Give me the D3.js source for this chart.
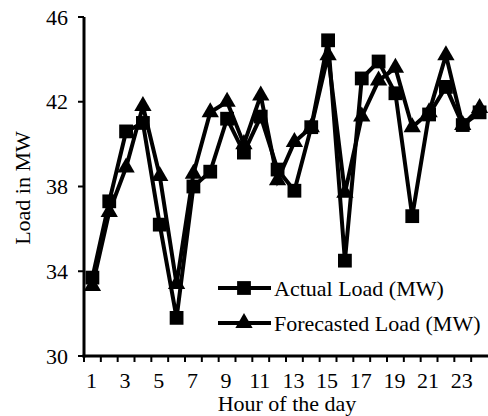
<!DOCTYPE html>
<html>
<head>
<meta charset="utf-8">
<script src="https://cdn.jsdelivr.net/npm/d3@7"></script>
<style>
  body { margin: 0; background: #fff; }
  svg { display: block; font-family: "Liberation Serif", "Times New Roman", serif; }
</style>
</head>
<body>
<svg id="chart" width="488" height="416"></svg>
<script>
// hours of the day
var hours = d3.range(1, 25);
// actual load (MW)
var actualLoad = [33.7, 37.3, 40.6, 41.0, 36.2, 31.8, 38.0, 38.7, 41.2, 39.6, 41.3, 38.8,
                  37.8, 40.8, 44.9, 34.5, 43.1, 43.9, 42.4, 36.6, 41.4, 42.7, 40.9, 41.5];
// forecasted load (MW)
var forecastLoad = [33.3, 36.8, 38.9, 41.8, 38.5, 33.4, 38.6, 41.5, 42.0, 40.0, 42.3, 38.3,
                    40.1, 40.8, 44.2, 37.7, 41.3, 43.0, 43.6, 40.8, 41.5, 44.2, 40.9, 41.7];
var yTicks = [30, 34, 38, 42, 46];
var xTickLabels = [1, 3, 5, 7, 9, 11, 13, 15, 17, 19, 21, 23];

var svg = d3.select('#chart');
var margin = {left: 84, top: 17, right: 0, bottom: 60};
var plotW = 488 - margin.left;
var fontSize = 22;

var x = d3.scaleBand().domain(hours).range([margin.left, margin.left + plotW]);
var y = d3.scaleLinear().domain([30, 46]).range([356, margin.top]);

// series lines
var line = d3.line()
    .x(function(d, i){ return x(hours[i]) + x.bandwidth() / 2; })
    .y(function(d){ return y(d); });

var series = [
  {name: 'Actual Load (MW)', values: actualLoad, symbol: d3.symbolSquare, size: 190},
  {name: 'Forecasted Load (MW)', values: forecastLoad, symbol: d3.symbolTriangle, size: 130}
];

series.forEach(function(s){
  svg.append('path')
    .datum(s.values)
    .attr('d', line)
    .attr('fill', 'none')
    .attr('stroke', '#000')
    .attr('stroke-width', 4)
    .attr('stroke-linejoin', 'miter');
});

series.forEach(function(s){
  svg.append('g').selectAll('path')
    .data(s.values)
    .enter()
    .append('path')
      .attr('d', d3.symbol().type(s.symbol).size(s.size))
      .attr('transform', function(d, i){
        return 'translate(' + (x(hours[i]) + x.bandwidth() / 2) + ',' + y(d) + ')';
      })
      .attr('fill', '#000');
});

// y axis
var yAxis = svg.append('g');
yAxis.append('line')
  .attr('x1', margin.left).attr('x2', margin.left)
  .attr('y1', y(46)).attr('y2', y(30) + 1.5)
  .attr('stroke', '#000').attr('stroke-width', 3);
yAxis.selectAll('line.tick')
  .data(yTicks)
  .enter()
  .append('line')
    .attr('class', 'tick')
    .attr('x1', margin.left - 6).attr('x2', margin.left)
    .attr('y1', function(d){ return y(d); })
    .attr('y2', function(d){ return y(d); })
    .attr('stroke', '#000').attr('stroke-width', 2);
yAxis.selectAll('text')
  .data(yTicks)
  .enter()
  .append('text')
    .attr('x', margin.left - 16)
    .attr('y', function(d){ return y(d); })
    .attr('dy', '0.35em')
    .attr('text-anchor', 'end')
    .attr('font-size', fontSize)
    .text(function(d){ return d; });

// x axis
var xAxis = svg.append('g');
xAxis.append('line')
  .attr('x1', margin.left - 1.5).attr('x2', 488)
  .attr('y1', y(30)).attr('y2', y(30))
  .attr('stroke', '#000').attr('stroke-width', 3);
xAxis.selectAll('line.tick')
  .data(hours)
  .enter()
  .append('line')
    .attr('class', 'tick')
    .attr('x1', function(d){ return x(d); })
    .attr('x2', function(d){ return x(d); })
    .attr('y1', y(30)).attr('y2', y(30) + 6)
    .attr('stroke', '#000').attr('stroke-width', 2);
xAxis.selectAll('text')
  .data(xTickLabels)
  .enter()
  .append('text')
    .attr('x', function(d){ return x(d) + x.bandwidth() / 2 - 1; })
    .attr('y', 388)
    .attr('text-anchor', 'middle')
    .attr('font-size', fontSize)
    .text(function(d){ return d; });

// axis titles
svg.append('text')
  .attr('x', 287).attr('y', 411)
  .attr('text-anchor', 'middle')
  .attr('font-size', fontSize)
  .text('Hour of the day');
svg.append('text')
  .attr('transform', 'translate(30,188) rotate(-90)')
  .attr('text-anchor', 'middle')
  .attr('font-size', fontSize)
  .text('Load in MW');

// legend
var legend = svg.append('g');
series.forEach(function(s, i){
  var ly = 288 + i * 35;
  legend.append('line')
    .attr('x1', 218).attr('x2', 271)
    .attr('y1', ly).attr('y2', ly)
    .attr('stroke', '#000').attr('stroke-width', 4);
  legend.append('path')
    .attr('d', d3.symbol().type(s.symbol).size(s.size))
    .attr('transform', 'translate(244,' + ly + ')');
  legend.append('text')
    .attr('x', 274).attr('y', ly)
    .attr('dy', '0.35em')
    .attr('font-size', fontSize)
    .text(s.name);
});
</script>
</body>
</html>
